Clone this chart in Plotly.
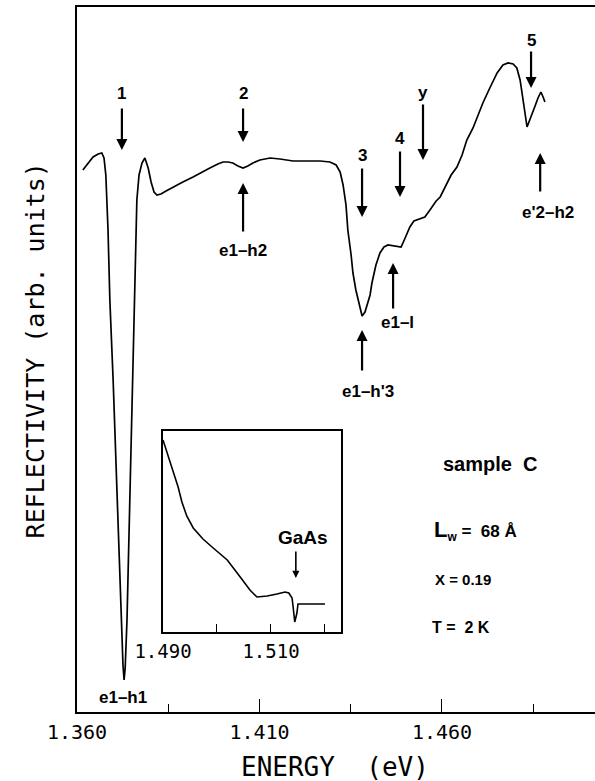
import plotly.graph_objects as go

# ---- main spectrum (energy in eV, reflectivity in arb. units) ----
energy = [1.3616, 1.3630, 1.3644, 1.3658, 1.3668, 1.3674, 1.3679, 1.3685, 1.3690, 1.3699,
          1.3707, 1.3715, 1.3721, 1.3726, 1.3729, 1.3732, 1.3737, 1.3742, 1.3748, 1.3753,
          1.3759, 1.3764, 1.3770, 1.3778, 1.3786, 1.3795, 1.3803, 1.3811, 1.3819, 1.3830,
          1.3844, 1.3863, 1.3890, 1.3918, 1.3942, 1.3964, 1.3986, 1.4000, 1.4014, 1.4027,
          1.4041, 1.4055, 1.4068, 1.4082, 1.4101, 1.4129, 1.4156, 1.4192, 1.4225, 1.4266,
          1.4293, 1.4310, 1.4321, 1.4329, 1.4337, 1.4342, 1.4351, 1.4356, 1.4364, 1.4373,
          1.4381, 1.4389, 1.4397, 1.4403, 1.4408, 1.4419, 1.4430, 1.4441, 1.4452, 1.4471,
          1.4488, 1.4499, 1.4512, 1.4523, 1.4532, 1.4542, 1.4553, 1.4567, 1.4584, 1.4595,
          1.4611, 1.4625, 1.4641, 1.4655, 1.4668, 1.4685, 1.4699, 1.4712, 1.4731, 1.4751,
          1.4767, 1.4781, 1.4795, 1.4805, 1.4814, 1.4822, 1.4827, 1.4833, 1.4841, 1.4847,
          1.4855, 1.4863, 1.4871, 1.4877, 1.4882]
reflectivity = [542, 549, 555, 558, 559, 554, 537, 482, 412, 332,
                242, 152, 92, 47, 32, 44, 92, 172, 262, 362,
                452, 512, 537, 549, 554, 544, 530, 520, 517, 518,
                521, 525, 530, 535, 540, 544, 548, 550, 550, 549,
                546, 544, 546, 549, 552, 554, 553, 551, 551, 551,
                550, 547, 540, 527, 507, 482, 457, 439, 422, 407,
                396, 400, 409, 417, 429, 447, 459, 465, 467, 466,
                465, 474, 485, 491, 492, 493, 495, 502, 511, 515,
                526, 537, 545, 557, 572, 584, 597, 609, 624, 639,
                647, 649, 648, 644, 632, 615, 600, 585, 592, 599,
                606, 614, 620, 615, 610]

# ---- inset spectrum (GaAs region) ----
inset_energy = [1.4900, 1.4906, 1.4913, 1.4920, 1.4928, 1.4935, 1.4944, 1.4956, 1.4974, 1.4993,
                1.5019, 1.5043, 1.5061, 1.5074, 1.5093, 1.5111, 1.5126, 1.5133, 1.5139, 1.5141,
                1.5144, 1.5148, 1.5150, 1.5154, 1.5200]
inset_refl = [192, 182, 172, 160, 145, 130, 116, 104, 93, 84,
              72, 55, 42, 35, 36, 38, 40, 39, 34, 25,
              10, 19, 28, 28, 28]

# ---- tick labels ----
main_major_ticks = [1.360, 1.410, 1.460]
main_major_text = ["1.360", "1.410", "1.460"]
main_minor_ticks = [1.385, 1.435, 1.485]
inset_major_ticks = [1.490, 1.510]
inset_major_text = ["1.490", "1.510"]
inset_minor_ticks = [1.500, 1.520]

# ---- arrow annotations: (energy, tail y, tip y, label, label y) ----
down_arrows = [
    (1.3723, 605, 562, "1", 619),
    (1.4055, 605, 570, "2", 619),
    (1.4381, 545, 495, "3", 557),
    (1.4485, 562, 515, "4", 574),
    (1.4548, 609, 552, "y", 620),
    (1.4844, 662, 624, "5", 672),
]
up_arrows = [
    (1.4055, 479, 529),
    (1.4466, 402, 449),
    (1.4381, 340, 382),
    (1.4869, 519, 559),
]
up_labels = [
    (1.4055, 462, "e1–h2"),
    (1.4477, 390, "e1–l"),
    (1.4397, 321, "e1–h'3"),
    (1.4890, 500, "e'2–h2"),
    (1.3726, 15, "e1–h1"),
]

BOLD = "Liberation Sans, Arial, sans-serif"
MONO = "DejaVu Sans Mono, monospace"

fig = go.Figure()
fig.add_trace(go.Scatter(x=energy, y=reflectivity, mode="lines",
                         line=dict(color="black", width=1.7), xaxis="x", yaxis="y",
                         showlegend=False, hoverinfo="skip"))
fig.add_trace(go.Scatter(x=inset_energy, y=inset_refl, mode="lines",
                         line=dict(color="black", width=1.6), xaxis="x2", yaxis="y2",
                         showlegend=False, hoverinfo="skip"))

ann = []
for e, tail, tip, lab, ly in down_arrows:
    ann.append(dict(x=e, y=tip, ax=e, ay=tail, xref="x", yref="y", axref="x", ayref="y",
                    text="", showarrow=True, arrowhead=2, arrowsize=1.0, arrowwidth=2.2,
                    arrowcolor="black"))
    ann.append(dict(x=e, y=ly, xref="x", yref="y", text="<b>%s</b>" % lab, showarrow=False,
                    font=dict(family=BOLD, size=17, color="black"),
                    xanchor="center", yanchor="middle"))
for e, tail, tip in up_arrows:
    ann.append(dict(x=e, y=tip, ax=e, ay=tail, xref="x", yref="y", axref="x", ayref="y",
                    text="", showarrow=True, arrowhead=2, arrowsize=1.0, arrowwidth=2.2,
                    arrowcolor="black"))
for e, ly, lab in up_labels:
    ann.append(dict(x=e, y=ly, xref="x", yref="y", text="<b>%s</b>" % lab, showarrow=False,
                    font=dict(family=BOLD, size=17, color="black"),
                    xanchor="center", yanchor="middle"))

# inset GaAs arrow
ann.append(dict(x=1.5146, y=54, ax=1.5146, ay=82, xref="x2", yref="y2", axref="x2", ayref="y2",
                text="", showarrow=True, arrowhead=2, arrowsize=0.9, arrowwidth=1.6,
                arrowcolor="black"))
ann.append(dict(x=1.5159, y=95, xref="x2", yref="y2", text="<b>GaAs</b>", showarrow=False,
                font=dict(family=BOLD, size=19, color="black"),
                xanchor="center", yanchor="middle"))

# sample description
ann.append(dict(x=1.4732, y=248, xref="x", yref="y", text="<b>sample  C</b>", showarrow=False,
                font=dict(family=BOLD, size=20, color="black"), xanchor="center", yanchor="middle"))
ann.append(dict(x=1.4573, y=182, xref="x", yref="y",
                text="<b><span style='font-size:22px'>L</span><sub>w</sub> =  68 Å</b>",
                showarrow=False, font=dict(family=BOLD, size=17, color="black"),
                xanchor="left", yanchor="middle"))
ann.append(dict(x=1.4576, y=133, xref="x", yref="y", text="<b>X = 0.19</b>", showarrow=False,
                font=dict(family=BOLD, size=15, color="black"), xanchor="left", yanchor="middle"))
ann.append(dict(x=1.4568, y=85, xref="x", yref="y", text="<b>T =  2 K</b>", showarrow=False,
                font=dict(family=BOLD, size=16, color="black"), xanchor="left", yanchor="middle"))

# axis titles
ann.append(dict(x=-0.081, y=0.513, xref="paper", yref="paper",
                text="REFLECTIVITY (arb. units)", textangle=-90, showarrow=False,
                font=dict(family=MONO, size=25, color="black"),
                xanchor="center", yanchor="middle"))
ann.append(dict(x=0.499, y=-0.078, xref="paper", yref="paper",
                text="ENERGY  (eV)", showarrow=False,
                font=dict(family=MONO, size=26, color="black"),
                xanchor="center", yanchor="middle"))

fig.update_layout(
    width=595, height=781,
    margin=dict(l=77, r=0, t=7, b=69),
    paper_bgcolor="white", plot_bgcolor="white",
    showlegend=False,
    annotations=ann,
    xaxis=dict(range=[1.360, 1.50192], showgrid=False, zeroline=False,
               showline=True, linecolor="black", linewidth=1.6, mirror=True,
               tickmode="array", tickvals=main_major_ticks, ticktext=main_major_text,
               ticks="inside", ticklen=13, tickwidth=1.4, tickcolor="black",
               ticklabelstandoff=1,
               tickfont=dict(family=MONO, size=20, color="black"),
               minor=dict(tickmode="array", tickvals=main_minor_ticks, ticks="inside",
                          ticklen=8, tickwidth=1.4, tickcolor="black", showgrid=False)),
    yaxis=dict(range=[0, 705], showgrid=False, zeroline=False, showline=True,
               linecolor="black", linewidth=1.6, mirror=False,
               showticklabels=False, ticks=""),
    xaxis2=dict(domain=[0.16602, 0.50965], anchor="y2", range=[1.4900, 1.522963],
                showgrid=False, zeroline=False, showline=True, linecolor="black",
                linewidth=1.5, mirror=True, tickmode="array", tickvals=inset_major_ticks,
                ticktext=inset_major_text, ticks="inside", ticklen=8, tickwidth=1.3,
                tickcolor="black", ticklabelstandoff=1,
                tickfont=dict(family=MONO, size=19, color="black"),
                minor=dict(tickmode="array", tickvals=inset_minor_ticks, ticks="inside",
                           ticklen=8, tickwidth=1.3, tickcolor="black", showgrid=False)),
    yaxis2=dict(domain=[0.11348, 0.39858], anchor="x2", range=[0, 201],
                showgrid=False, zeroline=False, showline=True, linecolor="black",
                linewidth=1.5, mirror=True, showticklabels=False, ticks=""),
)

fig.write_html("out.html")
